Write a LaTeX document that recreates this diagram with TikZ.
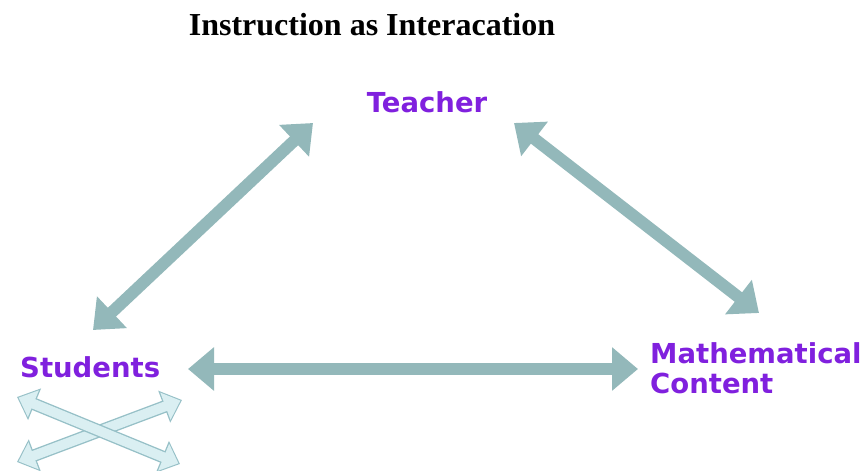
\documentclass[tikz,border=0pt]{standalone}
\usepackage{fontspec}
\setmainfont{Liberation Serif}
\newfontfamily\labelfont{DejaVu Sans}
\usetikzlibrary{arrows.meta}

\definecolor{arrowgray}{RGB}{147,184,186}
\definecolor{crossedge}{RGB}{150,192,199}
\definecolor{crossfill}{RGB}{218,239,242}
\definecolor{rolepurple}{RGB}{128,32,222}

\tikzset{
    role/.style={inner sep=0pt, text=rolepurple, font=\labelfont\bfseries\fontsize{27.5}{30}\selectfont},
    bigarrow/.style={line width=12pt, draw=arrowgray,
        {Triangle[width=42pt,length=26pt]}-{Triangle[width=42pt,length=26pt]}},
    crossout/.style={line width=12.5pt, draw=crossedge,
        {Triangle[width=33pt,length=19pt]}-{Triangle[width=33pt,length=19pt]}},
    crossin/.style={line width=9.8pt, draw=crossfill, shorten <=1.7pt, shorten >=1.7pt,
        {Triangle[width=28pt,length=16pt]}-{Triangle[width=28pt,length=16pt]}}
}

\begin{document}
\begin{tikzpicture}[x=1pt, y=-1pt]
    \useasboundingbox (0,0) rectangle (863,471);

    % --- Titel ---
    \node[anchor=base, inner sep=0pt, font=\bfseries\fontsize{32}{36}\selectfont] (title) at (372,35) {Instruction as Interacation};

    % --- Beteiligte ---
    \node[role, anchor=base] (teacher) at (427,112) {Teacher};
    \node[role, anchor=base west] (students) at (20,377) {Students};
    \node[role, anchor=base west, align=left] (content) at (650,393) {Mathematical\\Content};

    % --- Wechselwirkungen ---
    % Lehrer - Schueler
    \draw[bigarrow] ([shift={(73,-47)}]students.base west) -- ([shift={(-114,11)}]teacher.base);
    % Lehrer - Inhalt
    \draw[bigarrow] ([shift={(87,11)}]teacher.base) -- ([shift={(109,-80)}]content.base west);
    % Schueler - Inhalt
    \draw[bigarrow] ([shift={(168,-8)}]students.base west) -- ([shift={(-12,-24)}]content.base west);

    % --- Schueler untereinander ---
    \draw[crossout] ([shift={(-3,85)}]students.base west) -- ([shift={(162,23)}]students.base west);
    \draw[crossin] ([shift={(-3,85)}]students.base west) -- ([shift={(162,23)}]students.base west);
    \draw[crossout] ([shift={(-3,20)}]students.base west) -- ([shift={(160,87)}]students.base west);
    \draw[crossin] ([shift={(-3,20)}]students.base west) -- ([shift={(160,87)}]students.base west);
\end{tikzpicture}
\end{document}
